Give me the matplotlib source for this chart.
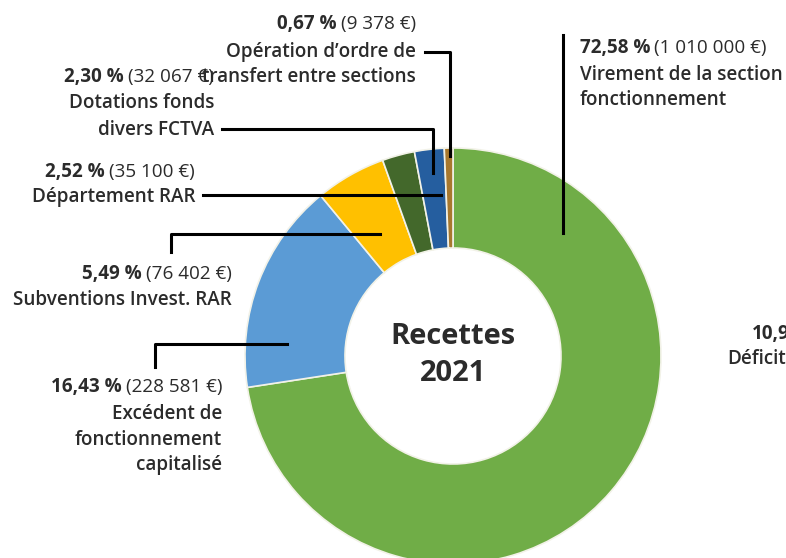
import matplotlib
matplotlib.use("Agg")
import matplotlib.pyplot as plt

# ---- data ----
labels = ["Virement de la section\nfonctionnement",
          "Excédent de\nfonctionnement\ncapitalisé",
          "Subventions Invest. RAR",
          "Département RAR",
          "Dotations fonds\ndivers FCTVA",
          "Opération d’ordre de\ntransfert entre sections"]
percents = [72.58, 16.43, 5.49, 2.52, 2.30, 0.67]
pct_text = ["72,58 %", "16,43 %", "5,49 %", "2,52 %", "2,30 %", "0,67 %"]
amounts = ["(1 010 000 €)", "(228 581 €)", "(76 402 €)", "(35 100 €)", "(32 067 €)", "(9 378 €)"]
colors = ["#70AD47", "#5B9BD5", "#FFC000", "#43682B", "#255E9F", "#A7782E"]
center_title = "Recettes\n2021"

W, H = 786, 558
fig = plt.figure(figsize=(W / 100, H / 100), dpi=100)
ax = fig.add_axes([0, 0, 1, 1])

cx, cy, R, r_in = 453, 356, 208, 108
# y axis is inverted below: start at -90 (top on screen), counterclock in data = clockwise on screen
ax.pie(percents, colors=colors, startangle=-90, counterclock=True,
       center=(cx, cy), radius=R, frame=True,
       wedgeprops=dict(width=R - r_in, edgecolor="#F2F2E8", linewidth=1.2))
ax.set_xlim(0, W)
ax.set_ylim(H, 0)
ax.set_aspect("equal")
ax.axis("off")

FONT = "Open Sans"
TXT = "#2b2b2b"
FS = 13.6
ax.text(cx, cy - 1, center_title, ha="center", va="center", fontsize=21,
        fontweight="bold", family=FONT, color=TXT, linespacing=1.35)

fig.canvas.draw()
renderer = fig.canvas.get_renderer()

def header(x, y, pct, amt, align="right"):
    y = y + 2
    if align == "right":
        t = ax.text(x, y, amt, ha="right", va="center", fontsize=FS,
                    family=FONT, color=TXT, fontweight="normal")
        bb = t.get_window_extent(renderer)
        xd = ax.transData.inverted().transform((bb.x0, 0))[0]
        ax.text(xd - 4, y, pct, ha="right", va="center", fontsize=FS,
                family=FONT, color=TXT, fontweight="bold")
    else:
        t = ax.text(x, y, pct, ha="left", va="center", fontsize=FS,
                    family=FONT, color=TXT, fontweight="bold")
        bb = t.get_window_extent(renderer)
        xd = ax.transData.inverted().transform((bb.x1, 0))[0]
        ax.text(xd + 4, y, amt, ha="left", va="center", fontsize=FS,
                family=FONT, color=TXT, fontweight="normal")

def body(x, ys, s, ha="right"):
    for y, line in zip(ys, s.split("\n")):
        ax.text(x, y + 2, line, ha=ha, va="center", fontsize=FS, family=FONT,
                color=TXT, fontweight="semibold")

lw = 2.2
# 0.67 %
header(416, 22, pct_text[5], amounts[5])
body(416, [50, 75], labels[5])
ax.plot([425, 450, 450], [52, 52, 156], color="black", lw=lw)
# 2.30 %
header(214, 75, pct_text[4], amounts[4])
body(214, [101, 128], labels[4])
ax.plot([222, 433, 433], [129, 129, 173], color="black", lw=lw)
# 2.52 %
header(195, 170, pct_text[3], amounts[3])
body(195, [195], labels[3])
ax.plot([203, 441], [195, 195], color="black", lw=lw)
# 5.49 %
header(232, 272, pct_text[2], amounts[2])
body(232, [298], labels[2])
ax.plot([171, 171, 380], [252, 234, 234], color="black", lw=lw)
# 16.43 %
header(222, 385, pct_text[1], amounts[1])
body(222, [412, 438, 463], labels[1])
ax.plot([155, 155, 287], [367, 344, 344], color="black", lw=lw)
# 72.58 %
header(580, 46, pct_text[0], amounts[0], align="left")
body(580, [73, 98], labels[0], ha="left")
ax.plot([563, 563], [35, 233], color="black", lw=lw)

# cut-off label at right edge (from adjacent chart)
ax.text(752, 334, "10,9", ha="left", va="center", fontsize=FS, family=FONT,
        color=TXT, fontweight="bold")
ax.text(727, 359, "Déficit", ha="left", va="center", fontsize=FS, family=FONT,
        color=TXT, fontweight="semibold")

fig.savefig("out.png", dpi=100)
